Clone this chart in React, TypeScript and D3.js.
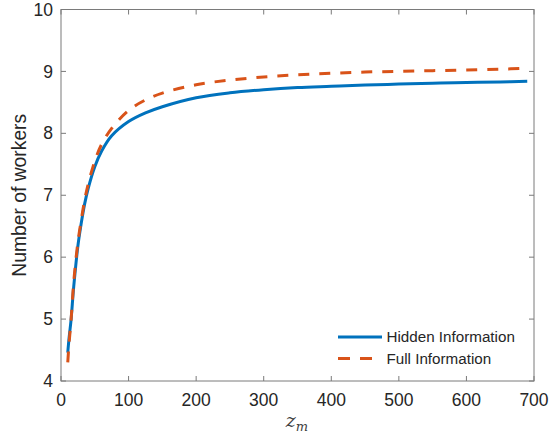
import React from "react";
import * as d3 from "d3";

const zValues = [10, 12, 15, 18, 20, 25, 30, 35, 40, 50, 60, 75, 100, 125, 150, 200, 250, 300, 350, 400, 450, 500, 550, 600, 650, 690];
const hiddenInfo = [4.46, 4.7, 5.0, 5.42, 5.66, 6.18, 6.55, 6.86, 7.1, 7.46, 7.71, 7.96, 8.19, 8.33, 8.43, 8.575, 8.655, 8.705, 8.74, 8.76, 8.78, 8.795, 8.81, 8.82, 8.83, 8.84];
const fullInfo = [4.3, 4.62, 5.0, 5.48, 5.74, 6.24, 6.6, 6.92, 7.17, 7.55, 7.82, 8.08, 8.37, 8.54, 8.65, 8.785, 8.86, 8.91, 8.945, 8.97, 8.99, 9.0, 9.012, 9.024, 9.036, 9.05];
const xTicks = [0, 100, 200, 300, 400, 500, 600, 700];
const yTicks = [4, 5, 6, 7, 8, 9, 10];
const seriesNames = ["Hidden Information", "Full Information"];
const seriesColors = ["#0072BD", "#D95319"];

export default function App() {
  const W = 557, H = 438;
  const left = 61, right = 534, top = 9.5, bottom = 381;
  const x = d3.scaleLinear().domain([0, 700]).range([left, right]);
  const y = d3.scaleLinear().domain([4, 10]).range([bottom, top]);
  const line = d3
    .line<[number, number]>()
    .x((d) => x(d[0]))
    .y((d) => y(d[1]))
    .curve(d3.curveCatmullRom.alpha(0.5));
  const hiddenPath = line(zValues.map((z, i) => [z, hiddenInfo[i]]) as [number, number][]) || "";
  const fullPath = line(zValues.map((z, i) => [z, fullInfo[i]]) as [number, number][]) || "";
  const axisColor = "#7a7a7a";
  const textColor = "#262626";
  const font = "'Liberation Sans', Arial, Helvetica, sans-serif";
  const tickLen = 5;

  return (
    <svg
      width={W}
      height={H}
      viewBox={`0 0 ${W} ${H}`}
      style={{ position: "absolute", left: 0, top: 0, background: "#fff" }}
    >
      <rect x={0} y={0} width={W} height={H} fill="#fff" />
      {/* data */}
      <path d={hiddenPath} fill="none" stroke={seriesColors[0]} strokeWidth={3} />
      <path d={fullPath} fill="none" stroke={seriesColors[1]} strokeWidth={3} strokeDasharray="11 10" />
      {/* axes box */}
      <rect x={left} y={top} width={right - left} height={bottom - top} fill="none" stroke={axisColor} strokeWidth={1} />
      {xTicks.map((t) => (
        <g key={"x" + t}>
          <line x1={x(t)} x2={x(t)} y1={bottom} y2={bottom - tickLen} stroke={axisColor} />
          <line x1={x(t)} x2={x(t)} y1={top} y2={top + tickLen} stroke={axisColor} />
          <text x={x(t)} y={406} textAnchor="middle" fontFamily={font} fontSize={17.5} fill={textColor}>
            {t}
          </text>
        </g>
      ))}
      {yTicks.map((t) => (
        <g key={"y" + t}>
          <line x1={left} x2={left + tickLen} y1={y(t)} y2={y(t)} stroke={axisColor} />
          <line x1={right} x2={right - tickLen} y1={y(t)} y2={y(t)} stroke={axisColor} />
          <text x={53} y={y(t)} dy="0.35em" textAnchor="end" fontFamily={font} fontSize={17.5} fill={textColor}>
            {t}
          </text>
        </g>
      ))}
      {/* y label */}
      <text
        transform={`translate(26, ${(top + bottom) / 2}) rotate(-90)`}
        textAnchor="middle"
        fontFamily={font}
        fontSize={19.3}
        fill={textColor}
      >
        Number of workers
      </text>
      {/* x label */}
      <text x={297} y={426.5} textAnchor="middle" fontFamily="'DejaVu Serif', 'Liberation Serif', serif" fill="#404040">
        <tspan fontStyle="italic" fontSize={19}>z</tspan>
        <tspan fontStyle="italic" fontSize={13} dy={4}>m</tspan>
      </text>
      {/* legend */}
      {seriesNames.map((name, i) => {
        const ly = i === 0 ? 337 : 358.5;
        return (
          <g key={name}>
            <line
              x1={338}
              x2={382}
              y1={ly}
              y2={ly}
              stroke={seriesColors[i]}
              strokeWidth={3}
              strokeDasharray={i === 1 ? "12 10" : undefined}
            />
            <text x={386.5} y={ly} dy="0.35em" fontFamily={font} fontSize={15.2} fill={textColor}>
              {name}
            </text>
          </g>
        );
      })}
    </svg>
  );
}
